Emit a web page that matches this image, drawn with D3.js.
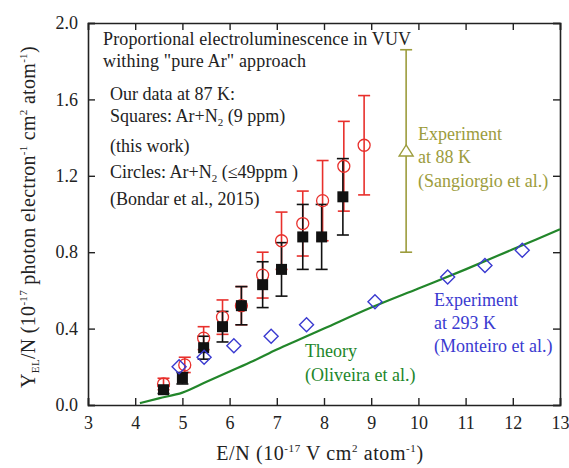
<!DOCTYPE html>
<html>
<head>
<meta charset="utf-8">
<script src="https://cdn.jsdelivr.net/npm/d3@7"></script>
<style>
body { margin: 0; background: #fff; }
text { font-family: "Liberation Serif", "Times New Roman", serif; }
</style>
</head>
<body>
<div id="chart"></div>
<script>
var width = 569, height = 468
var margin = {top: 23, right: 9, bottom: 63, left: 88}

// black squares: Ar+N2 (9 ppm), this work
var sqX = [4.6, 5.0, 5.45, 5.85, 6.25, 6.7, 7.1, 7.55, 7.95, 8.4]
var sqY = [0.08, 0.14, 0.30, 0.41, 0.52, 0.63, 0.71, 0.88, 0.88, 1.09]
var sqErr = [0.02, 0.03, 0.06, 0.08, 0.10, 0.12, 0.14, 0.17, 0.17, 0.20]

// red circles: Bondar et al. 2015
var ciX = [4.6, 5.05, 5.45, 5.85, 6.25, 6.7, 7.1, 7.55, 7.97, 8.42, 8.85]
var ciY = [0.11, 0.21, 0.35, 0.46, 0.52, 0.68, 0.86, 0.95, 1.07, 1.25, 1.36]
var ciErr = [0.03, 0.04, 0.06, 0.09, 0.10, 0.12, 0.15, 0.17, 0.21, 0.235, 0.26]

// blue diamonds: Monteiro et al.
var diX = [4.93, 5.46, 6.09, 6.88, 7.63, 9.08, 10.62, 11.41, 12.2]
var diY = [0.20, 0.25, 0.31, 0.36, 0.42, 0.54, 0.67, 0.73, 0.81]

// green theory curve: Oliveira et al.
var thX = [4.1, 4.5, 5.0, 5.5, 6.0, 6.5, 7.0, 7.5, 8.0, 9.0, 10.0, 11.0, 12.0, 13.0]
var thY = [0.01, 0.035, 0.065, 0.12, 0.175, 0.23, 0.29, 0.345, 0.40, 0.51, 0.61, 0.71, 0.815, 0.92]

// olive triangle: Sangiorgio et al.
var sgX = [9.74]
var sgY = [1.33]
var sgErr = [0.53]

var xTicks = [3, 4, 5, 6, 7, 8, 9, 10, 11, 12, 13]
var yTicks = [0.0, 0.4, 0.8, 1.2, 1.6, 2.0]

var red = "#e8302c", blue = "#3a3ad0", green = "#22862a", olive = "#9c9c3c"

var svg = d3.select("#chart").append("svg")
    .attr("width", width)
    .attr("height", height)

var x = d3.scaleLinear().domain([3, 13]).range([margin.left, width - margin.right])
var y = d3.scaleLinear().domain([0, 2]).range([height - margin.bottom, margin.top])

// axes, ticks inward on all four sides
var fs = "18px"
svg.append("g")
    .attr("transform", "translate(0," + y(0) + ")")
    .call(d3.axisBottom(x).tickValues(xTicks).tickSize(-7).tickPadding(11).tickFormat(d3.format("d")))
svg.append("g")
    .attr("transform", "translate(0," + y(2) + ")")
    .call(d3.axisTop(x).tickValues(xTicks).tickSize(-7).tickFormat(""))
svg.append("g")
    .attr("transform", "translate(" + x(3) + ",0)")
    .call(d3.axisLeft(y).tickValues(yTicks).tickSize(-7).tickPadding(10).tickFormat(d3.format(".1f")))
svg.append("g")
    .attr("transform", "translate(" + x(13) + ",0)")
    .call(d3.axisRight(y).tickValues(yTicks).tickSize(-7).tickFormat(""))
svg.selectAll(".domain").attr("stroke", "#222").attr("stroke-width", 1.6)
svg.selectAll(".tick line").attr("stroke", "#222").attr("stroke-width", 1.4)
svg.selectAll(".tick text").attr("fill", "#222").style("font-size", fs)
    .style("font-family", "Liberation Serif, serif")

// theory line
svg.append("path")
    .datum(thX.map((d, i) => [d, thY[i]]))
    .attr("fill", "none")
    .attr("stroke", green)
    .attr("stroke-width", 2.2)
    .attr("d", d3.line().x(d => x(d[0])).y(d => y(d[1])).curve(d3.curveMonotoneX))

function errBars(xs, ys, es, color, cap) {
    var g = svg.append("g").attr("stroke", color).attr("stroke-width", 1.6)
    xs.forEach(function(d, i) {
        g.append("line").attr("x1", x(d)).attr("x2", x(d)).attr("y1", y(ys[i] - es[i])).attr("y2", y(ys[i] + es[i]))
        g.append("line").attr("x1", x(d) - cap).attr("x2", x(d) + cap).attr("y1", y(ys[i] + es[i])).attr("y2", y(ys[i] + es[i]))
        g.append("line").attr("x1", x(d) - cap).attr("x2", x(d) + cap).attr("y1", y(ys[i] - es[i])).attr("y2", y(ys[i] - es[i]))
    })
}

errBars(sgX, sgY, sgErr, olive, 6)
errBars(ciX, ciY, ciErr, red, 6)
errBars(sqX, sqY, sqErr, "#111", 6)

// red open circles
svg.append("g").selectAll("circle")
    .data(ciX).join("circle")
    .attr("cx", d => x(d))
    .attr("cy", (d, i) => y(ciY[i]))
    .attr("r", 6)
    .attr("fill", "none")
    .attr("stroke", red)
    .attr("stroke-width", 1.3)

// black squares
svg.append("g").selectAll("rect")
    .data(sqX).join("rect")
    .attr("x", d => x(d) - 5.5)
    .attr("y", (d, i) => y(sqY[i]) - 5.5)
    .attr("width", 11)
    .attr("height", 11)
    .attr("fill", "#111")

// blue diamonds
svg.append("g").selectAll("path")
    .data(diX).join("path")
    .attr("transform", (d, i) => "translate(" + x(d) + "," + y(diY[i]) + ")")
    .attr("d", "M0,-7L7,0L0,7L-7,0Z")
    .attr("fill", "none")
    .attr("stroke", blue)
    .attr("stroke-width", 1.4)

// olive triangle
svg.append("path")
    .attr("transform", "translate(" + x(sgX[0]) + "," + y(sgY[0]) + ")")
    .attr("d", "M0,-6L7,5L-7,5Z")
    .attr("fill", "white")
    .attr("stroke", olive)
    .attr("stroke-width", 1.4)

// annotation text
function label(tx, ty, color, parts, size) {
    var t = svg.append("text").attr("x", tx).attr("y", ty).attr("fill", color).style("font-size", size || fs)
    parts.forEach(function(p) {
        if (typeof p === "string") t.append("tspan").text(p)
        else t.append("tspan").attr("dy", p.dy).style("font-size", p.size || "11px").text(p.t)
    })
    return t
}

label(103, 45, "#222", ["Proportional electroluminescence in VUV"]).attr("textLength", 308)
label(103, 67, "#222", ["withing \"pure Ar\" approach"]).attr("textLength", 203)
label(110, 100, "#222", ["Our data at 87 K:"])
label(110, 122, "#222", ["Squares: Ar+N", {t: "2", dy: 4}, {t: " (9 ppm)", dy: -4, size: fs}])
label(110, 152, "#222", ["(this work)"])
label(110, 178, "#222", ["Circles: Ar+N", {t: "2", dy: 4}, {t: " (\u226449ppm )", dy: -4, size: fs}])
label(110, 205, "#222", ["(Bondar et al., 2015)"])

label(418, 140, olive, ["Experiment"])
label(418, 163, olive, ["at 88 K"])
label(418, 187, olive, ["(Sangiorgio et al.)"])

label(434, 306, blue, ["Experiment"])
label(434, 329, blue, ["at 293 K"])
label(434, 352, blue, ["(Monteiro et al.)"])

label(305, 357, green, ["Theory"])
label(305, 381, green, ["(Oliveira et al.)"])

// axis titles
var ts = "20px"
label(0, 460, "#222", ["E/N (10", {t: "-17", dy: -8}, {t: " V cm", dy: 8, size: ts}, {t: "2", dy: -8}, {t: " atom", dy: 8, size: ts}, {t: "-1", dy: -8}, {t: ")", dy: 8, size: ts}], ts)
    .attr("x", 320).attr("text-anchor", "middle").style("letter-spacing", "0.6px")

label(0, 0, "#222", ["Y", {t: "EL", dy: 4}, {t: "/N (10", dy: -4, size: ts}, {t: "-17", dy: -8}, {t: " photon electron", dy: 8, size: ts}, {t: "-1", dy: -8}, {t: " cm", dy: 8, size: ts}, {t: "2", dy: -8}, {t: " atom", dy: 8, size: ts}, {t: "-1", dy: -8}, {t: ")", dy: 8, size: ts}], ts)
    .attr("text-anchor", "middle").style("letter-spacing", "0.3px")
    .attr("transform", "translate(35,217) rotate(-90)")
</script>
</body>
</html>
